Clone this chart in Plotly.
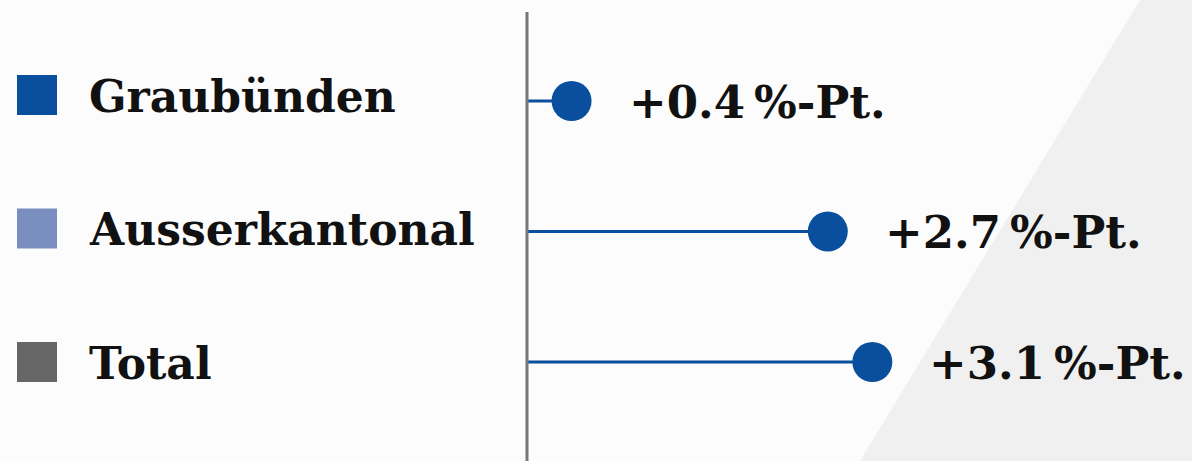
import plotly.graph_objects as go

categories = ["Graubünden", "Ausserkantonal", "Total"]
values = [0.4, 2.7, 3.1]
value_labels = ["+0.4\u2009%-Pt.", "+2.7\u2009%-Pt.", "+3.1\u2009%-Pt."]
legend_colors = ["#0a4f9e", "#7a8fc0", "#666666"]

BLUE = "#0a4f9e"
FONT = "DejaVu Serif"

fig = go.Figure()

# lollipop stems
for c, v in zip(categories, values):
    fig.add_trace(go.Scatter(x=[0, v], y=[c, c], mode="lines",
                             line=dict(color=BLUE, width=3),
                             hoverinfo="skip", showlegend=False))
# lollipop heads
fig.add_trace(go.Scatter(x=values, y=categories, mode="markers",
                         marker=dict(color=BLUE, size=40, line=dict(width=0)),
                         showlegend=False))

# legend squares on second axes
fig.add_trace(go.Scatter(x=[0] * len(categories), y=categories, mode="markers",
                         marker=dict(symbol="square", size=40, color=legend_colors,
                                     line=dict(width=0)),
                         xaxis="x2", yaxis="y2", showlegend=False))

annotations = []
for c, v, t in zip(categories, values, value_labels):
    annotations.append(dict(x=v, y=c, xref="x", yref="y", text=t, showarrow=False,
                            xanchor="left", yanchor="middle", xshift=55, yshift=-1,
                            font=dict(family=FONT, size=45, color="#111111", weight="bold")))
for c in categories:
    annotations.append(dict(x=0, y=c, xref="x2", yref="y2", text=c, showarrow=False,
                            xanchor="left", yanchor="middle", xshift=50, yshift=-1,
                            font=dict(family=FONT, size=44, color="#111111", weight="bold")))

W, H = 1192, 461
x0_px = 527
px_per_unit = 111.4
xr = [-x0_px / px_per_unit, (W - x0_px) / px_per_unit]

fig.update_layout(
    width=W, height=H,
    margin=dict(l=0, r=0, t=0, b=0),
    paper_bgcolor="#fcfcfc", plot_bgcolor="rgba(0,0,0,0)",
    xaxis=dict(range=xr, domain=[0, 1], visible=False, showgrid=False, zeroline=False),
    xaxis2=dict(range=[-37 / 110.0, (W - 37) / 110.0], domain=[0, 1], overlaying="x",
                visible=False, showgrid=False, zeroline=False),
    yaxis=dict(type="category", categoryorder="array", categoryarray=categories,
               range=[2 + 99 / 130.5, -101 / 130.5], visible=False, showgrid=False,
               zeroline=False),
    yaxis2=dict(type="category", categoryorder="array", categoryarray=categories,
                range=[2 + 99 / 133.5, -95 / 133.5], overlaying="y", visible=False,
                showgrid=False, zeroline=False),
    annotations=annotations,
    shapes=[
        dict(type="path", xref="paper", yref="paper",
             path="M 0.9564 1 L 1 1 L 1 0 L 0.7215 0 Z",
             fillcolor="#f0f0f0", line=dict(width=0), layer="below"),
        dict(type="line", xref="x", yref="paper", x0=0, x1=0, y0=0, y1=0.974,
             line=dict(color="#777777", width=3), layer="above"),
    ],
    showlegend=False,
)

fig.write_html("out.html", config={"displayModeBar": False},
               post_script="document.body.style.margin='0';document.body.style.padding='0';")
